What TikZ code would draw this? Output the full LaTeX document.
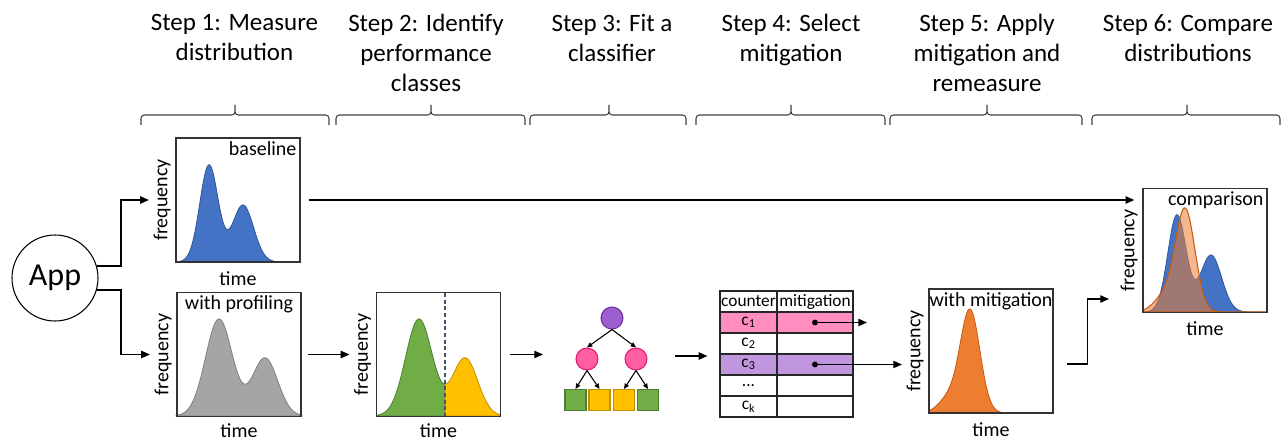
\documentclass[tikz,border=0pt]{standalone}
\usepackage{fontspec}
\setmainfont{Carlito}
\usepackage{tikz}
\usetikzlibrary{arrows.meta,positioning}

\definecolor{bluefill}{HTML}{4472C4}
\definecolor{blueline}{HTML}{2F5597}
\definecolor{grayfill}{HTML}{A5A5A5}
\definecolor{grayline}{HTML}{7F7F7F}
\definecolor{greenfill}{HTML}{70AD47}
\definecolor{greenline}{HTML}{507E32}
\definecolor{yellowfill}{HTML}{FFC000}
\definecolor{yellowline}{HTML}{BF9000}
\definecolor{orangefill}{HTML}{ED7D31}
\definecolor{orangeline}{HTML}{C55A11}
\definecolor{rootfill}{HTML}{9D5FCF}
\definecolor{rootline}{HTML}{7030A0}
\definecolor{splitfill}{HTML}{FF5FA2}
\definecolor{splitline}{HTML}{E0197A}
\definecolor{rowpink}{HTML}{FF8DC0}
\definecolor{rowpurple}{HTML}{C096DE}
\definecolor{cutline}{HTML}{44546A}

% shapes of the distributions
\pgfmathdeclarefunction{twohump}{1}{\pgfmathparse{97*exp(-((#1-209)/13)*((#1-209)/13))+57*exp(-((#1-243)/15)*((#1-243)/15))}}
\pgfmathdeclarefunction{widehump}{1}{\pgfmathparse{97*exp(-((#1-219)/19)*((#1-219)/19))+58*exp(-((#1-265)/18)*((#1-265)/18))}}
\pgfmathdeclarefunction{onehump}{1}{\pgfmathparse{103*exp(-((#1-970)/14)*((#1-970)/14))+14*exp(-((#1-948)/14)*((#1-948)/14))}}

\tikzset{
  hdr/.style={font=\fontsize{18.75}{22.5}\selectfont, align=center, anchor=north, inner sep=0pt},
  brc/.style={draw=black!75, line width=0.8pt, rounded corners=2.5pt},
  plotbox/.style={draw=black!80, line width=1.1pt, minimum width=93pt, minimum height=93pt, inner sep=0pt},
  lbl/.style={font=\fontsize{15}{18}\selectfont},
  tag/.style={lbl, inner sep=3pt},
  freq/.style={lbl, rotate=90, anchor=south},
  conn/.style={->, line width=1pt},
  tarr/.style={-{Triangle[length=4pt,width=3.5pt]}, line width=0.8pt},
  rootnd/.style={circle, draw=rootline, fill=rootfill, line width=0.8pt, minimum size=16.5pt, inner sep=0pt},
  splitnd/.style={circle, draw=splitline, fill=splitfill, line width=0.8pt, minimum size=16.5pt, inner sep=0pt},
  leafg/.style={draw=greenline, fill=greenfill, line width=0.8pt, minimum size=15.75pt, inner sep=0pt},
  leafy/.style={draw=yellowline, fill=yellowfill, line width=0.8pt, minimum size=15.75pt, inner sep=0pt},
  cell/.style={draw=black!85, line width=0.9pt, inner sep=0pt, minimum height=15.75pt, font=\fontsize{13}{15}\selectfont},
  cntcol/.style={cell, minimum width=42.75pt},
  mitcol/.style={cell, minimum width=57pt}
}

\begin{document}
\begin{tikzpicture}[x=0.75pt, y=-0.75pt, >={Triangle[length=6.5pt,width=5.5pt]}]
\useasboundingbox (0,0) rectangle (1286,442);

% step headings
\node[hdr] (s1) at (234.5,14) {Step 1: Measure\\distribution};
\node[hdr] (s2) at (426,14) {Step 2: Identify\\performance\\classes};
\node[hdr] (s3) at (612,14) {Step 3: Fit a\\classifier};
\node[hdr] (s4) at (791,14) {Step 4: Select\\mitigation};
\node[hdr] (s5) at (987,14) {Step 5: Apply\\mitigation and\\remeasure};
\node[hdr] (s6) at (1188,14) {Step 6: Compare\\distributions};

\foreach \l/\m/\r in {141/235/329, 336/431/525, 530/609/686, 696/791/885, 890/987/1082, 1092/1187/1280}
  \draw[brc] (\l,125) |- (\m,115) -- (\m,105) (\r,125) |- (\m,115) -- (\m,105);

% curves
\fill[bluefill, draw=blueline, line width=0.6pt] (176,262) -- plot[domain=176:300, samples=100, smooth] (\x,{262-twohump(\x)}) -- (300,262) -- cycle;
\fill[grayfill, draw=grayline, line width=0.6pt] (176,416) -- plot[domain=176:302, samples=100, smooth] (\x,{416-widehump(\x)}) -- (302,416) -- cycle;
\fill[greenfill, draw=greenline, line width=0.6pt] (377,416) -- plot[domain=377:445, samples=60, smooth] (\x,{416-widehump(\x-200)}) -- (445,416) -- cycle;
\fill[yellowfill, draw=yellowline, line width=0.6pt] (445,416) -- plot[domain=445:500, samples=50, smooth] (\x,{416-widehump(\x-200)}) -- (500,416) -- cycle;
\draw[cutline, line width=0.8pt, dash pattern=on 3pt off 2pt] (445,293) -- (445,416);
\fill[orangefill, draw=orangeline, line width=0.6pt] (929,413) -- plot[domain=929:1053, samples=100, smooth] (\x,{413-onehump(\x)}) -- (1053,413) -- cycle;
\fill[bluefill, draw=blueline, line width=0.6pt] (1143,312) -- plot[domain=1143:1267, samples=100, smooth] (\x,{312-twohump(\x-968)}) -- (1267,312) -- cycle;
\fill[orangefill, fill opacity=0.55, draw=orangeline, line width=0.8pt] (1143,312) -- plot[domain=1143:1267, samples=100, smooth] (\x,{312-onehump(\x-215)}) -- (1267,312) -- cycle;

% app and plot frames
\node[circle, draw, line width=0.8pt, minimum size=64.5pt, font=\fontsize{24}{28}\selectfont] (app) at (55,278) {App};

\node[plotbox] (base) at (238,200) {};
\node[plotbox] (prof) at (239,354.5) {};
\node[plotbox] (cls) at (438.5,354.5) {};
\node[plotbox] (mitg) at (991,351) {};
\node[plotbox] (cmp) at (1205,250.5) {};

\node[tag, anchor=north east] (btag) at (base.north east) {baseline};
\node[tag, anchor=north] (ptag) at (prof.north) {with profiling};
\node[tag, anchor=north] (mtag) at (mitg.north) {with mitigation};
\node[tag, anchor=north east] (ctag) at (cmp.north east) {comparison};

\node[freq] (bfreq) at (base.west) {frequency};
\node[freq] (pfreq) at (prof.west) {frequency};
\node[freq] (cfreq) at (cls.west) {frequency};
\node[freq] (mfreq) at (mitg.west) {frequency};
\node[freq] (kfreq) at (cmp.west) {frequency};
\node[lbl, below=3pt of base] (btime) {time};
\node[lbl, below=1pt of prof] (ptime) {time};
\node[lbl, below=1pt of cls] (ctime) {time};
\node[lbl, below=3pt of mitg] (mtime) {time};
\node[lbl, below=3pt of cmp] (ktime) {time};

% classifier tree
\node[rootnd] (root) at (612,318) {};
\node[splitnd] (pl) at (587,359) {};
\node[splitnd] (pr) at (636,359) {};
\node[leafg] (l1) at (575.5,400) {};
\node[leafy] (l2) at (599.5,400) {};
\node[leafy] (l3) at (624,400) {};
\node[leafg] (l4) at (648,400) {};
\draw[tarr] (root.south) -- (pl.north);
\draw[tarr] (root.south) -- (pr.north);
\draw[tarr] (pl.south) -- (l1.north);
\draw[tarr] (pl.south) -- (l2.north);
\draw[tarr] (pr.south) -- (l3.north);
\draw[tarr] (pr.south) -- (l4.north);

% mitigation table
\node[cntcol] (hcnt) at (748.5,301.5) {counter};
\node[mitcol] (hmit) at (815,301.5) {mitigation};
\node[cntcol, fill=rowpink] (cn1) at (748.5,322.5) {c\textsubscript{1}};
\node[mitcol, fill=rowpink] (mt1) at (815,322.5) {};
\node[cntcol] (cn2) at (748.5,343.5) {c\textsubscript{2}};
\node[mitcol] (mt2) at (815,343.5) {};
\node[cntcol, fill=rowpurple] (cn3) at (748.5,364.5) {c\textsubscript{3}};
\node[mitcol, fill=rowpurple] (mt3) at (815,364.5) {};
\node[cntcol] (cn4) at (748.5,385.5) {...};
\node[mitcol] (mt4) at (815,385.5) {};
\node[cntcol] (cnk) at (748.5,406.5) {c\textsubscript{k}};
\node[mitcol] (mtk) at (815,406.5) {};

% connectors
\coordinate (treein) at (543,354.5);
\coordinate (treeout) at (675,356);
\coordinate (pick1) at (867,322.5);
\coordinate (cmpin) at (1109,299);

\draw[conn] (app.16) -- ++(24,0) |- (bfreq.north);
\draw[conn] (app.-16) -- ++(24,0) |- (pfreq.north);
\draw[conn, shorten <=6pt, shorten >=6pt] (base.east) -- (base.east -| cmp.west);
\draw[conn, shorten <=4.5pt] (prof.east) -- (cfreq.north);
\draw[conn, shorten <=6.75pt] (cls.east) -- (treein);
\draw[conn, shorten >=9pt] (treeout) -- (treeout -| cn3.west);
\fill (mt1.center) circle (2.2pt);
\fill (mt3.center) circle (2.2pt);
\draw[conn] (mt1.center) -- (pick1);
\draw[conn] (mt3.center) -- (mt3.center -| mfreq.north);
\draw[conn] ([shift={(9.75pt,-9.75pt)}]mitg.east) -- ++(21,0) |- (cmpin);
\end{tikzpicture}
\end{document}
